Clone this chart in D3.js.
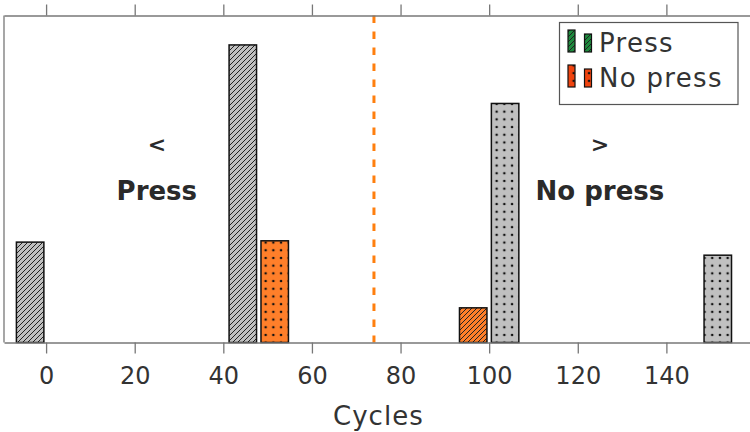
<!DOCTYPE html>
<html>
<head>
<meta charset="utf-8">
<script src="https://cdn.jsdelivr.net/npm/d3@7"></script>
<style>
  html, body { margin: 0; padding: 0; background: #fff; }
  svg { display: block; font-family: "DejaVu Sans", sans-serif; }
</style>
</head>
<body>
<div id="chart"></div>
<script>
// data
const groups = [0, 48, 100, 148];
const pressValues = [30.7, 91.0, 10.6, 0];
const noPressValues = [0, 31.1, 73.1, 26.7];
const threshold = 74;
const xTicks = [0, 20, 40, 60, 80, 100, 120, 140];
const seriesNames = ['Press', 'No press'];
const notes = [
    { x: 25, sym: '<', label: 'Press' },
    { x: 125, sym: '>', label: 'No press' }
];

const W = 750, H = 432;
const plot = { left: 4, right: 755, top: 15.5, bottom: 342.5 };
const FONT = '"DejaVu Sans", sans-serif';

const svg = d3.select('#chart').append('svg')
    .attr('width', W)
    .attr('height', H);

const x = d3.scaleLinear().domain([-9.5, 160]).range([plot.left, plot.right]);
const y = d3.scaleLinear().domain([0, 100]).range([plot.bottom, plot.top]);

const GRAY = '#c0c0c0', ORANGE = '#ff7f2a';
const barW = 6.2, offset = 3.6;

// patterns
const defs = svg.append('defs');
function hatch(id, fill) {
    const p = defs.append('pattern').attr('id', id)
        .attr('patternUnits', 'userSpaceOnUse')
        .attr('width', 5).attr('height', 5);
    p.append('rect').attr('width', 5).attr('height', 5).attr('fill', fill);
    p.append('path').attr('d', 'M-1,1 l2,-2 M0,5 l5,-5 M4,6 l2,-2')
        .attr('stroke', '#222').attr('stroke-width', 1);
}
function dots(id, fill) {
    const p = defs.append('pattern').attr('id', id)
        .attr('patternUnits', 'userSpaceOnUse')
        .attr('width', 7.7).attr('height', 7.7);
    p.append('rect').attr('width', 7.7).attr('height', 7.7).attr('fill', fill);
    p.append('circle').attr('cx', 3.85).attr('cy', 3.85).attr('r', 1.3).attr('fill', '#111');
}
hatch('h-gray', GRAY);
hatch('h-orange', ORANGE);
hatch('h-green', '#1e8a3e');
dots('d-gray', GRAY);
dots('d-orange', ORANGE);
dots('d-red', '#f0440f');

// bars: left = Press (hatched), right = No press (dotted); orange when on the wrong side
const bars = [];
groups.forEach((g, i) => {
    if (pressValues[i] > 0) bars.push({ x: g - offset, v: pressValues[i], pat: g < threshold ? 'h-gray' : 'h-orange' });
    if (noPressValues[i] > 0) bars.push({ x: g + offset, v: noPressValues[i], pat: g > threshold ? 'd-gray' : 'd-orange' });
});

svg.append('g').selectAll('rect').data(bars).join('rect')
    .attr('x', d => x(d.x - barW / 2))
    .attr('width', d => x(d.x + barW / 2) - x(d.x - barW / 2))
    .attr('y', d => y(d.v))
    .attr('height', d => y(0) - y(d.v))
    .attr('fill', d => `url(#${d.pat})`)
    .attr('stroke', '#111')
    .attr('stroke-width', 1.5);

// threshold line
svg.append('line')
    .attr('x1', x(threshold)).attr('x2', x(threshold))
    .attr('y1', plot.top).attr('y2', plot.bottom)
    .attr('stroke', '#ff7f0e')
    .attr('stroke-width', 3)
    .attr('stroke-dasharray', '7.5,8.5');

// axes
const bottomAxis = svg.append('g')
    .attr('transform', `translate(0,${plot.bottom})`)
    .call(d3.axisBottom(x).tickValues(xTicks).tickSize(11).tickPadding(13).tickSizeOuter(0));
bottomAxis.attr('font-family', FONT).attr('font-size', 24);
bottomAxis.selectAll('text').attr('fill', '#333');

svg.append('g')
    .attr('transform', `translate(0,${plot.top})`)
    .call(d3.axisTop(x).tickValues(xTicks).tickSize(11).tickFormat('').tickSizeOuter(0));

svg.selectAll('.domain, .tick line').attr('stroke', '#777').attr('stroke-width', 1.3);

svg.append('line')
    .attr('x1', plot.left).attr('x2', plot.left)
    .attr('y1', plot.top).attr('y2', plot.bottom)
    .attr('stroke', '#777').attr('stroke-width', 1.3);

svg.append('text')
    .attr('x', x(75)).attr('y', 425)
    .attr('text-anchor', 'middle')
    .attr('font-size', 26).attr('letter-spacing', 1).attr('fill', '#333')
    .text('Cycles');

// side notes
const noteG = svg.append('g').selectAll('g').data(notes).join('g');
noteG.append('text')
    .attr('x', d => x(d.x)).attr('y', 152)
    .attr('text-anchor', 'middle')
    .attr('font-size', 22).attr('font-weight', 'bold').attr('fill', '#2a2a2a')
    .text(d => d.sym);
noteG.append('text')
    .attr('x', d => x(d.x)).attr('y', 200)
    .attr('text-anchor', 'middle')
    .attr('font-size', 26).attr('font-weight', 'bold').attr('fill', '#2a2a2a')
    .text(d => d.label);

// legend
const legend = svg.append('g');
legend.append('rect')
    .attr('x', 559.5).attr('y', 22.5)
    .attr('width', 178.5).attr('height', 82)
    .attr('fill', '#fff').attr('stroke', '#555').attr('stroke-width', 1.2);

const legendPats = [['h-green', 'h-green'], ['d-red', 'd-red']];
seriesNames.forEach((name, i) => {
    const yb = 52 + i * 35;
    legend.append('rect').attr('x', 568).attr('y', yb - 22).attr('width', 7).attr('height', 22)
        .attr('fill', `url(#${legendPats[i][0]})`).attr('stroke', '#111').attr('stroke-width', 1.2);
    legend.append('rect').attr('x', 584.5).attr('y', yb - 18).attr('width', 7).attr('height', 18)
        .attr('fill', `url(#${legendPats[i][1]})`).attr('stroke', '#111').attr('stroke-width', 1.2);
    legend.append('text')
        .attr('x', 599).attr('y', yb)
        .attr('font-size', 26).attr('letter-spacing', 1.3).attr('fill', '#333')
        .text(name);
});
</script>
</body>
</html>
